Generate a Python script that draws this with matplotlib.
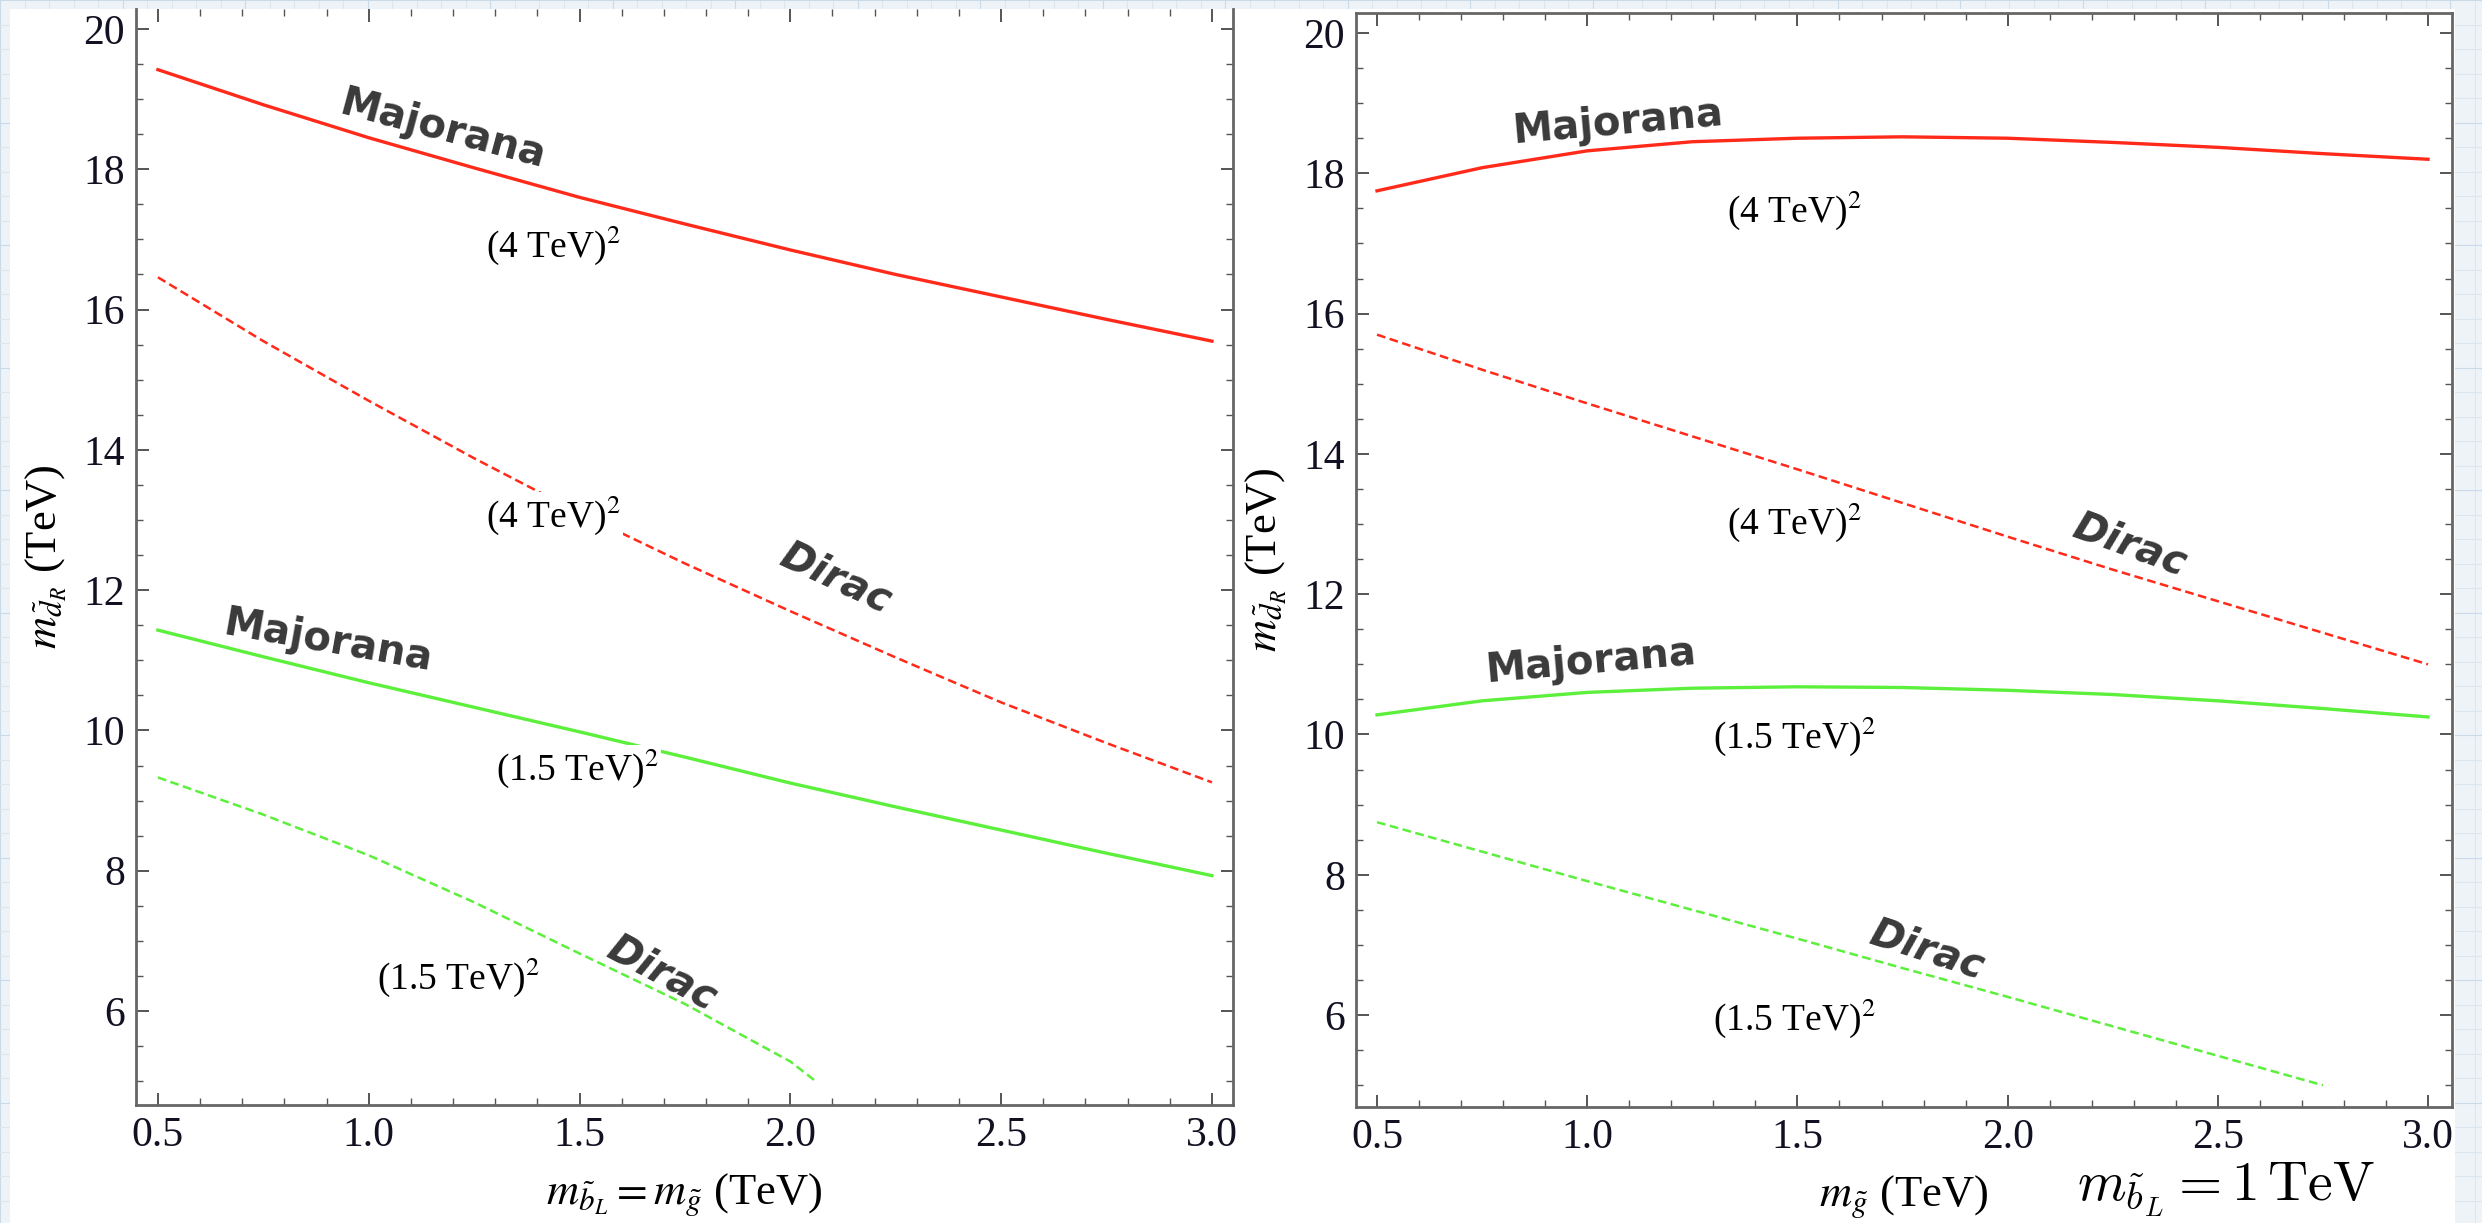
import numpy as np
import matplotlib.pyplot as plt
from matplotlib.patches import Rectangle
from matplotlib.ticker import MultipleLocator

# Values
x_full = [0.5, 0.75, 1.0, 1.25, 1.5, 1.75, 2.0, 2.25, 2.5, 2.75, 3.0]

left_maj_4 = [19.42, 18.92, 18.45, 18.02, 17.6, 17.22, 16.85, 16.5, 16.18, 15.86, 15.55]
left_dir_4 = [16.46, 15.55, 14.7, 13.88, 13.1, 12.38, 11.7, 11.04, 10.4, 9.82, 9.26]
left_maj_15 = [11.43, 11.05, 10.68, 10.33, 9.98, 9.62, 9.25, 8.91, 8.58, 8.25, 7.93]
x_left_dir_15 = [0.5, 0.75, 1.0, 1.25, 1.5, 1.75, 2.0, 2.06]
left_dir_15 = [9.33, 8.8, 8.22, 7.55, 6.82, 6.1, 5.28, 5.0]

right_maj_4 = [17.75, 18.08, 18.32, 18.45, 18.5, 18.52, 18.5, 18.44, 18.37, 18.28, 18.2]
right_dir_4 = [15.7, 15.2, 14.72, 14.25, 13.78, 13.3, 12.82, 12.35, 11.9, 11.45, 11.0]
right_maj_15 = [10.28, 10.48, 10.6, 10.66, 10.68, 10.67, 10.63, 10.57, 10.48, 10.37, 10.25]
x_right_dir_15 = [0.5, 0.75, 1.0, 1.25, 1.5, 1.75, 2.0, 2.25, 2.5, 2.75]
right_dir_15 = [8.75, 8.33, 7.91, 7.5, 7.09, 6.67, 6.26, 5.84, 5.42, 5.0]

RED = '#ff2a1a'
GREEN = '#5cf03c'
W, H = 2482, 1223

plt.rcParams['font.family'] = ['Liberation Serif', 'DejaVu Serif']
plt.rcParams['mathtext.fontset'] = 'stix'

fig = plt.figure(figsize=(W / 100, H / 100), dpi=100)

# slide background with faint grid, white panel on top
bg = fig.add_axes([0, 0, 1, 1], zorder=-10)
bg.set_xlim(0, W); bg.set_ylim(H, 0); bg.axis('off')
bg.add_patch(Rectangle((0, 0), W, H, fc='#eef3f7', ec='none', zorder=0))
for k, g in enumerate(np.arange(0, W, 24.5)):
    bg.axvline(g, color='#dbe6ee' if k % 5 else '#c9dbe8', lw=0.8, zorder=1)
for k, g in enumerate(np.arange(0, H, 24.5)):
    bg.axhline(g, color='#dbe6ee' if k % 5 else '#c9dbe8', lw=0.8, zorder=1)
bg.add_patch(Rectangle((10, 9), 2445, H, fc='white', ec='none', zorder=5))

def px_axes(x0, x1, ytop, ybot):
    return fig.add_axes([x0 / W, (H - ybot) / H, (x1 - x0) / W, (ybot - ytop) / H])

axL = px_axes(136, 1233, 9, 1105)
axR = px_axes(1356, 2452, 13, 1107)
axL.set_xlim(0.448, 3.05); axL.set_ylim(4.66, 20.285)
axR.set_xlim(0.45, 3.057); axR.set_ylim(4.69, 20.285)

for ax in (axL, axR):
    ax.set_facecolor('none')
    ax.xaxis.set_major_locator(MultipleLocator(0.5))
    ax.xaxis.set_minor_locator(MultipleLocator(0.1))
    ax.yaxis.set_minor_locator(MultipleLocator(0.5))
    ax.set_yticks([6, 8, 10, 12, 14, 16, 18, 20])
    ax.xaxis.set_major_formatter(plt.FormatStrFormatter('%.1f'))
    ax.tick_params(which='both', direction='in', top=True, right=True,
                   color='#555555', labelsize=30, pad=8, labelcolor='#111122')
    ax.tick_params(which='major', length=9, width=1.4)
    ax.tick_params(which='minor', length=5, width=1.0)
    for s in ax.spines.values():
        s.set_color('#666666'); s.set_linewidth(2)
    ax.set_ylabel(r'$m_{\tilde{d}_R}$ (TeV)', fontsize=32, labelpad=10)
axL.spines['top'].set_visible(False)

axL.set_xlabel(r'$m_{\tilde{b}_L} = m_{\tilde{g}}$ (TeV)', fontsize=32, labelpad=12)
axR.set_xlabel(r'$m_{\tilde{g}}$ (TeV)', fontsize=32, labelpad=12)

dash = (3.5, 1.8)
axL.plot(x_full, left_maj_4, color=RED, lw=2.4)
axL.plot(x_full, left_dir_4, color=RED, lw=1.8, dashes=dash)
axL.plot(x_full, left_maj_15, color=GREEN, lw=2.4)
axL.plot(x_left_dir_15, left_dir_15, color=GREEN, lw=1.8, dashes=dash)

axR.plot(x_full, right_maj_4, color=RED, lw=2.4)
axR.plot(x_full, right_dir_4, color=RED, lw=1.8, dashes=dash)
axR.plot(x_full, right_maj_15, color=GREEN, lw=2.4)
axR.plot(x_right_dir_15, right_dir_15, color=GREEN, lw=1.8, dashes=dash)

hand = dict(family='DejaVu Sans', fontweight='bold', fontsize=29, color='#3a3a3a',
            ha='center', va='center', rotation_mode='anchor', zorder=5)
box = dict(fc='white', ec='none', pad=1)
lab = dict(fontsize=27, ha='center', va='center', zorder=5, bbox=box)

axL.text(1.176, 18.56, 'Majorana', rotation=-15, **hand)
axL.text(1.439, 16.92, r'(4 TeV)$^2$', **lab)
axL.text(1.439, 13.07, r'(4 TeV)$^2$', **lab)
axL.text(2.108, 12.17, 'Dirac', rotation=-25, style='italic', **hand)
axL.text(0.903, 11.27, 'Majorana', rotation=-10, **hand)
axL.text(1.496, 9.46, r'(1.5 TeV)$^2$', **lab)
axL.text(1.214, 6.48, r'(1.5 TeV)$^2$', **lab)
axL.text(1.695, 6.53, 'Dirac', rotation=-28, style='italic', **hand)

axR.text(1.073, 18.72, 'Majorana', rotation=5, **hand)
axR.text(1.492, 17.48, r'(4 TeV)$^2$', **lab)
axR.text(1.492, 13.03, r'(4 TeV)$^2$', **lab)
axR.text(2.289, 12.69, 'Dirac', rotation=-20, style='italic', **hand)
axR.text(1.009, 11.03, 'Majorana', rotation=5, **hand)
axR.text(1.492, 9.98, r'(1.5 TeV)$^2$', **lab)
axR.text(1.808, 6.93, 'Dirac', rotation=-18, style='italic', **hand)
axR.text(1.492, 5.96, r'(1.5 TeV)$^2$', **lab)

fig.text(2226 / W, 1 - 1190 / H, r'$m_{\tilde{b}_L} = 1\,\mathrm{TeV}$', fontsize=40,
         ha='center', va='center', math_fontfamily='cm')

fig.savefig('out.png', dpi=100)
